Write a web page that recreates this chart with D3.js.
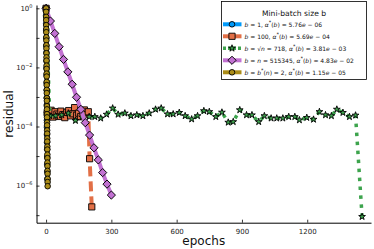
<!DOCTYPE html>
<html>
<head>
<meta charset="utf-8">
<script src="https://cdn.jsdelivr.net/npm/d3@7"></script>
<style>
  body { margin: 0; background: #fff; }
  svg { display: block; font-family: "DejaVu Sans", sans-serif; }
</style>
</head>
<body>
<svg id="chart" width="374" height="249"></svg>
<script>
// values: epoch and log10(residual) per point

// b = 1 (drawn first, almost fully hidden under b = b*(n))
const epochsB1 = [0, 0.3, 0.5, 0.8, 1.0, 1.3, 1.5, 1.8, 2.0, 2.3, 2.5, 2.8, 3.0, 3.3, 3.5, 3.8, 4.0, 4.3, 4.5, 4.8, 5.0, 5.3, 5.5, 5.8];
const logResB1 = [0, -0.24, -0.52, -0.75, -1.01, -1.27, -1.50, -1.78, -2.02, -2.26, -2.53, -2.77, -3.03, -3.27, -3.52, -3.79, -4.02, -4.28, -4.54, -4.77, -5.03, -5.28, -5.53, -5.78];

// b = 100
const epochsB100 = [0, 5, 14, 23, 32, 41, 50, 59, 68, 77, 86, 95, 104, 113, 122, 131, 140, 149, 158, 167, 176, 185, 194, 200, 210];
const logResB100 = [0, -3.55, -3.62, -3.45, -3.68, -3.50, -3.58, -3.66, -3.48, -3.60, -3.70, -3.52, -3.46, -3.64, -3.57, -3.36, -3.62, -3.55, -3.67, -3.48, -3.44, -3.60, -3.50, -5.09, -6.72];

// b = sqrt(n) = 718
const epochsSqrt = [0, 17, 44, 72, 102, 135, 165, 198, 224, 251, 278, 306, 331, 362, 390, 417, 445, 474, 503, 529, 558, 584, 612, 639, 669, 696, 725, 750, 780, 808, 837, 860, 890, 921, 946, 977, 1003, 1034, 1060, 1088, 1115, 1143, 1164, 1198, 1229, 1256, 1284, 1311, 1336, 1364, 1394, 1422, 1452];
const logResSqrt = [0, -3.64, -3.64, -3.61, -3.55, -3.80, -3.68, -3.67, -3.67, -3.72, -3.59, -3.38, -3.59, -3.55, -3.64, -3.61, -3.64, -3.55, -3.42, -3.38, -3.58, -3.58, -3.53, -3.64, -3.75, -3.64, -3.47, -3.50, -3.67, -3.52, -3.86, -3.84, -3.44, -3.61, -3.61, -3.84, -3.64, -3.72, -3.72, -3.72, -3.67, -3.67, -3.78, -3.70, -3.76, -3.50, -3.61, -3.64, -3.42, -3.53, -3.67, -3.62, -7.05];

// b = n = 515345
const epochsFull = [0, 20, 40, 60, 80, 100, 120, 140, 160, 180, 200, 220, 240, 260, 280, 300];
const logResFull = [0, -0.43, -0.85, -1.30, -1.73, -2.15, -2.57, -3.01, -3.42, -3.87, -4.29, -4.72, -5.13, -5.56, -5.95, -6.32];

// b = b*(n) = 2
const epochsOpt = [0, 0.1, 0.3, 0.4, 0.6, 0.8, 0.9, 1.1, 1.3, 1.4, 1.6, 1.8, 1.9, 2.1, 2.3, 2.4, 2.6, 2.8, 2.9, 3.1, 3.3, 3.4, 3.6, 3.8, 3.9, 4.1, 4.3, 4.4, 4.6, 4.8, 4.9, 5.1, 5.3, 5.4, 5.6, 5.8, 5.9, 6.1, 6.3, 6.4, 6.6, 6.8, 6.9, 7.1, 7.3];
const logResOpt = [0, -0.12, -0.29, -0.40, -0.57, -0.70, -0.81, -0.98, -1.09, -1.25, -1.36, -1.52, -1.66, -1.77, -1.94, -2.05, -2.21, -2.31, -2.49, -2.60, -2.76, -2.87, -3.04, -3.13, -3.31, -3.42, -3.58, -3.69, -3.86, -3.96, -4.13, -4.24, -4.40, -4.51, -4.68, -4.78, -4.95, -5.07, -5.22, -5.34, -5.50, -5.60, -5.77, -5.88, -6.02];

const legendTitle = "Mini-batch size b";
const legendLabels = [
  "b = 1, α*(b) = 5.76e − 06",
  "b = 100, α*(b) = 5.69e − 04",
  "b = √n = 718, α*(b) = 3.81e − 03",
  "b = n = 515345, α*(b) = 4.83e − 02",
  "b = b*(n) = 2, α*(b) = 1.15e − 05"
];
const xTicks = [0, 300, 600, 900, 1200];
const yTickExps = [-7, -6, -5, -4, -3, -2, -1, 0];

// styling per series (Plots.jl default palette)
const series = [
  { x: epochsB1,   y: logResB1,   color: "#009AFA", dash: null,      legDash: null,  lw: 4,   marker: "circle",  ms: 5.6 },
  { x: epochsB100, y: logResB100, color: "#E26F46", dash: "10,5",    legDash: null,  lw: 4,   marker: "square",  ms: 6.2 },
  { x: epochsSqrt, y: logResSqrt, color: "#3DA44D", dash: "3.5,5.5", legDash: "3,2", lw: 3.5, marker: "star",    ms: 4.2 },
  { x: epochsFull, y: logResFull, color: "#C271D2", dash: null,      legDash: null,  lw: 4,   marker: "diamond", ms: 5.8 },
  { x: epochsOpt,  y: logResOpt,  color: "#AC8D18", dash: null,      legDash: null,  lw: 4,   marker: "circle",  ms: 5.6 }
];

const svg = d3.select("#chart");
const L = 36.5, R = 371, T = 5, B = 222.7;

const x = d3.scaleLinear().domain([-44, 1493]).range([L, R]);
const y = d3.scaleLog().domain([Math.pow(10, -7.255), Math.pow(10, 0.112)]).range([B, T]);

function markerPath(m, s) {
  if (m === "circle") return d3.symbol(d3.symbolCircle, Math.PI * (s / 2) * (s / 2))();
  if (m === "square" || m === "diamond") return d3.symbol(d3.symbolSquare, s * s)();
  if (m === "star") return d3.symbol(d3.symbolStar, s * s * 0.8)();
}

// axes
const gx = svg.append("g").attr("transform", `translate(0,${B})`)
  .call(d3.axisBottom(x).tickValues(xTicks).tickFormat(d3.format("d")).tickSizeInner(-3).tickSizeOuter(0).tickPadding(6));
const gy = svg.append("g").attr("transform", `translate(${L},0)`)
  .call(d3.axisLeft(y).tickValues(yTickExps.map(e => Math.pow(10, e))).tickFormat("").tickSizeInner(-3).tickSizeOuter(0));
[gx, gy].forEach(g => {
  g.select(".domain").attr("stroke", "#000").attr("stroke-width", 1);
  g.selectAll(".tick line").attr("stroke", "#000").attr("stroke-width", 0.8);
  g.selectAll("text").attr("fill", "#222").style("font-size", "7px").style("font-family", "DejaVu Sans");
});

// y tick labels as 10^e, only even exponents
const yLab = svg.append("g").attr("fill", "#222");
yTickExps.filter(e => e % 2 === 0).forEach(e => {
  const t = yLab.append("text").attr("x", L - 4).attr("y", y(Math.pow(10, e)) + 2.5)
    .attr("text-anchor", "end").style("font-size", "7px");
  t.append("tspan").text("10");
  t.append("tspan").attr("dy", -3).style("font-size", "5px").text(e === 0 ? "0" : "−" + (-e));
});

// axis titles
svg.append("text").attr("x", (L + R) / 2).attr("y", 244.5).attr("text-anchor", "middle")
  .style("font-size", "12px").attr("fill", "#111").text("epochs");
svg.append("text").attr("transform", `translate(12.5,${(T + B) / 2}) rotate(-90)`).attr("text-anchor", "middle")
  .style("font-size", "12px").attr("fill", "#111").text("residual");

// series: line then markers, in legend order
const line = d3.line().x(d => x(d[0])).y(d => y(Math.pow(10, d[1])));
series.forEach(s => {
  const pts = s.x.map((v, i) => [v, s.y[i]]);
  const g = svg.append("g");
  g.append("path").datum(pts).attr("d", line).attr("fill", "none")
    .attr("stroke", s.color).attr("stroke-width", s.lw)
    .attr("stroke-dasharray", s.dash).attr("stroke-linejoin", "round");
  g.selectAll("path.mk").data(pts).join("path").attr("class", "mk")
    .attr("d", markerPath(s.marker, s.ms))
    .attr("transform", d => `translate(${x(d[0])},${y(Math.pow(10, d[1]))})` + (s.marker === "diamond" ? " rotate(45)" : ""))
    .attr("fill", s.color).attr("stroke", "#000").attr("stroke-width", 0.9);
});

// legend
const lg = svg.append("g");
lg.append("rect").attr("x", 221.5).attr("y", 1.5).attr("width", 145).attr("height", 78)
  .attr("fill", "#fff").attr("stroke", "#000").attr("stroke-width", 0.8);
lg.append("text").attr("x", 294).attr("y", 15.5).attr("text-anchor", "middle")
  .style("font-size", "7.6px").attr("fill", "#111").text(legendTitle);

function richText(sel, str) {
  // italic letters, superscript asterisk
  const runs = [];
  for (const ch of str) {
    const k = /[a-zα]/.test(ch) ? "i" : ch === "*" ? "s" : "n";
    if (runs.length && runs[runs.length - 1].k === k) runs[runs.length - 1].t += ch;
    else runs.push({ k, t: ch });
  }
  let up = false;
  runs.forEach(r => {
    const ts = sel.append("tspan").text(r.t);
    if (r.k === "i") ts.style("font-style", "italic");
    if (r.k === "s") { ts.attr("dy", -2.5).style("font-size", "5px"); up = true; }
    else if (up) { ts.attr("dy", 2.5); up = false; }
  });
}

series.forEach((s, i) => {
  const cy = 24.3 + i * 12;
  lg.append("line").attr("x1", 223).attr("x2", 241.5).attr("y1", cy).attr("y2", cy)
    .attr("stroke", s.color).attr("stroke-width", s.lw).attr("stroke-dasharray", s.legDash);
  lg.append("path").attr("d", markerPath(s.marker, s.ms))
    .attr("transform", `translate(232,${cy})` + (s.marker === "diamond" ? " rotate(45)" : ""))
    .attr("fill", s.color).attr("stroke", "#000").attr("stroke-width", 0.9);
  const t = lg.append("text").attr("x", 244.5).attr("y", cy + 2.2).style("font-size", "6px").attr("fill", "#111");
  richText(t, legendLabels[i]);
});
</script>
</body>
</html>
